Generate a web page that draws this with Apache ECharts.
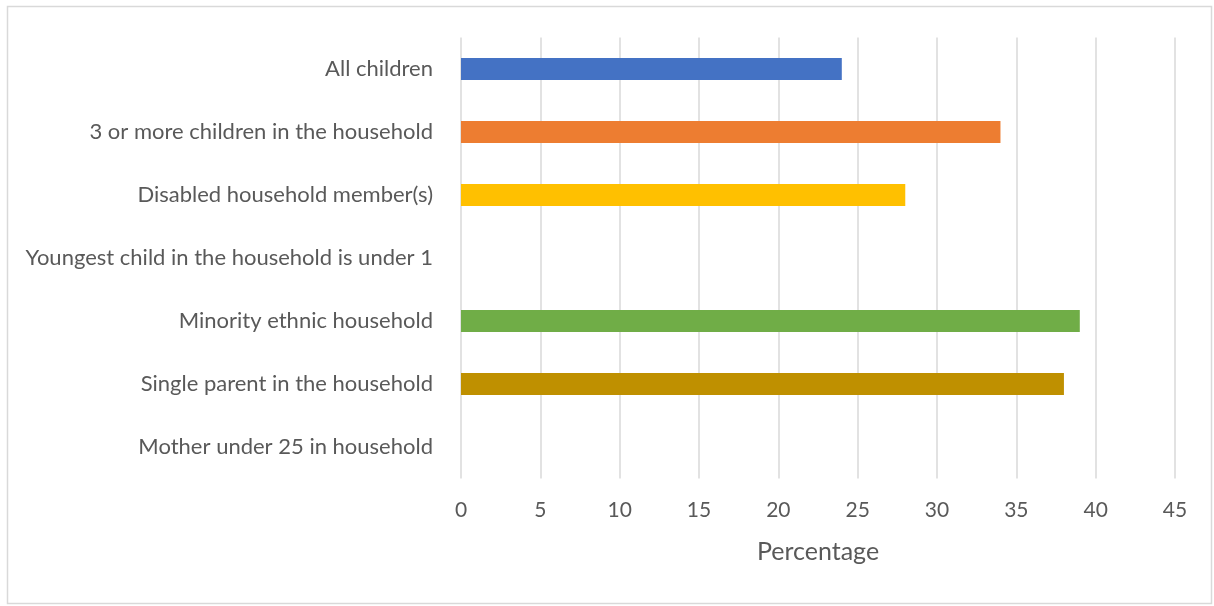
<!DOCTYPE html>
<html>
<head>
<meta charset="utf-8">
<title>Household characteristics</title>
<script src="https://cdn.jsdelivr.net/npm/echarts@6/dist/echarts.min.js"></script>
<style>
  html, body { margin: 0; padding: 0; background: #ffffff; }
  #chart { width: 1214px; height: 606px; }
</style>
</head>
<body>
<div id="chart"></div>
<script>
// Categories listed top to bottom
const categories = [
  'All children',
  '3 or more children in the household',
  'Disabled household member(s)',
  'Youngest child in the household is under 1',
  'Minority ethnic household',
  'Single parent in the household',
  'Mother under 25 in household'
];
// Percentage for each category (null = no bar shown)
const values = [24, 34, 28, null, 39, 38, null];
// Axis ticks
const axisMin = 0;
const axisMax = 45;
const axisStep = 5;

// Bar palette, one colour per category
const palette = ['#4472C4', '#ED7D31', '#FFC000', '#A5A5A5', '#70AD47', '#BF9000', '#5B9BD5'];

const textColor = '#595959';
const fontFamily = 'Lato, "Open Sans", sans-serif';

const chart = echarts.init(document.getElementById('chart'), null, { renderer: 'canvas' });

chart.setOption({
  animation: false,
  backgroundColor: '#ffffff',
  graphic: [{
    type: 'rect',
    silent: true,
    shape: { x: 7.5, y: 6.5, width: 1204, height: 597 },
    style: { fill: 'none', stroke: '#d9d9d9', lineWidth: 1.5 }
  }],
  grid: { left: 461, right: 39, top: 37.5, height: 441, containLabel: false },
  xAxis: {
    type: 'value',
    min: axisMin,
    max: axisMax,
    interval: axisStep,
    name: 'Percentage',
    nameLocation: 'middle',
    nameGap: 61,
    nameTextStyle: { color: textColor, fontSize: 25, fontFamily: fontFamily },
    axisLine: { show: false },
    axisTick: { show: false },
    axisLabel: { color: textColor, fontSize: 21, fontFamily: fontFamily, margin: 21 },
    splitLine: { show: true, lineStyle: { color: '#d9d9d9', width: 1.5 } }
  },
  yAxis: {
    type: 'category',
    inverse: true,
    data: categories,
    axisLine: { show: false },
    axisTick: { show: false },
    axisLabel: { color: textColor, fontSize: 22, fontFamily: fontFamily, margin: 28 },
    splitLine: { show: false }
  },
  series: [{
    type: 'bar',
    barWidth: '35%',
    data: values.map((v, i) => ({
      value: v,
      itemStyle: { color: palette[i] }
    }))
  }]
});
</script>
</body>
</html>
